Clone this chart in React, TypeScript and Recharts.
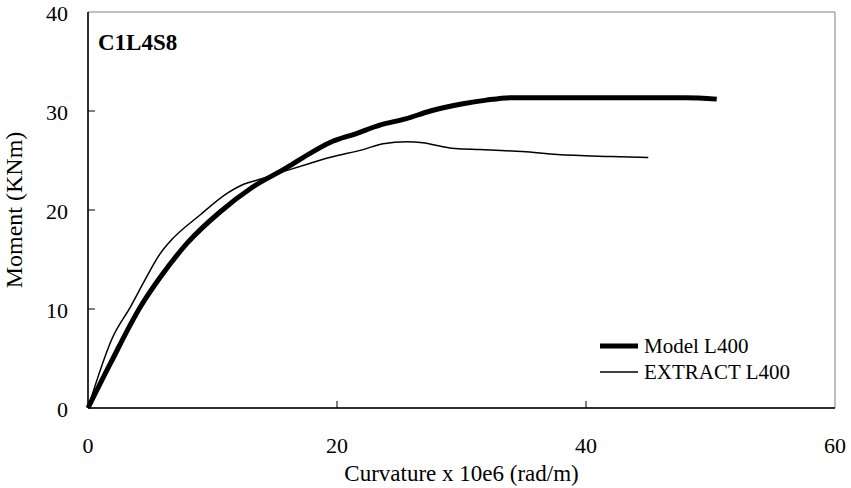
import React from 'react';
import {
  LineChart,
  Line,
  XAxis,
  YAxis,
  ReferenceArea
} from 'recharts';

const FONT = '"Liberation Serif", "Times New Roman", serif';

const xTicks = [0, 20, 40, 60];
const yTicks = [0, 10, 20, 30, 40];

// Model L400 (thick)
const modelX = [0, 1.8, 4.2, 5.8, 8, 10.6, 13.2, 16, 17.8, 19.4, 21.5, 23.5, 25.5, 27.5, 30, 32, 34.1, 40, 48, 50.5];
const modelY = [0, 4.5, 10.2, 13.2, 16.7, 19.8, 22.3, 24.3, 25.7, 26.8, 27.7, 28.6, 29.2, 30.0, 30.7, 31.1, 31.35, 31.35, 31.35, 31.2];

// EXTRACT L400 (thin)
const extractX = [0, 2.0, 3.4, 4.6, 5.8, 6.5, 9.0, 11.2, 12.5, 13.8, 16, 17.8, 19.4, 22.1, 23.7, 25.6, 26.9, 28.5, 29.5, 31.5, 34.9, 37.7, 42, 45];
const extractY = [0, 7.2, 10.2, 13, 15.6, 16.7, 19.5, 21.7, 22.6, 23.1, 24.0, 24.7, 25.3, 26.1, 26.7, 26.9, 26.8, 26.4, 26.2, 26.1, 25.9, 25.6, 25.4, 25.3];

const modelData = modelX.map((x, i) => ({ x, y: modelY[i] }));
const extractData = extractX.map((x, i) => ({ x, y: extractY[i] }));

const Y_MARGIN = 20;
const X_MARGIN = 30;

const YTick = (props: any) => {
  const { x, y, payload } = props;
  const ax = x + Y_MARGIN;
  return (
    <g>
      {payload.value !== 0 && payload.value !== 40 && (
        <line x1={ax} y1={y} x2={ax + 7} y2={y} stroke="#000" strokeWidth={1} />
      )}
      <text x={x} y={y} dy="0.4em" textAnchor="end" fontFamily={FONT} fontSize={22} fill="#000">
        {payload.value}
      </text>
    </g>
  );
};

const XTick = (props: any) => {
  const { x, y, payload } = props;
  const ay = y - X_MARGIN;
  return (
    <g>
      {payload.value !== 0 && payload.value !== 60 && (
        <line x1={x} y1={ay} x2={x} y2={ay - 7} stroke="#000" strokeWidth={1} />
      )}
      <text x={x} y={y} dy="0.7em" textAnchor="middle" fontFamily={FONT} fontSize={22} fill="#000">
        {payload.value}
      </text>
    </g>
  );
};

const legendItems = [
  { name: 'Model L400', w: 5 },
  { name: 'EXTRACT L400', w: 1.5 }
];

export default function App() {
  return (
    <div style={{ position: 'absolute', left: 0, top: 0, width: 851, height: 488, background: '#fff' }}>
      <LineChart width={851} height={488} margin={{ top: 12, right: 16, bottom: 0, left: 0 }}>
        <ReferenceArea x1={0} x2={60} y1={0} y2={40} fill="none" stroke="#808080" strokeWidth={1} ifOverflow="visible" />
        <XAxis
          type="number"
          dataKey="x"
          domain={[0, 60]}
          ticks={xTicks}
          height={80}
          tickSize={0}
          tickMargin={X_MARGIN}
          tick={<XTick />}
          axisLine={{ stroke: '#000', strokeWidth: 1.5 }}
          label={{
            value: 'Curvature x 10e6 (rad/m)',
            position: 'insideBottom',
            offset: 7,
            style: { fontFamily: FONT, fontSize: 23, fill: '#000' }
          }}
          allowDuplicatedCategory={false}
        />
        <YAxis
          type="number"
          dataKey="y"
          domain={[0, 40]}
          ticks={yTicks}
          width={88}
          tickSize={0}
          tickMargin={Y_MARGIN}
          tick={<YTick />}
          axisLine={{ stroke: '#000', strokeWidth: 1.5 }}
          label={{
            value: 'Moment (KNm)',
            angle: -90,
            position: 'insideLeft',
            offset: 18,
            dx: -5,
            style: { fontFamily: FONT, fontSize: 24, fill: '#000', textAnchor: 'middle' }
          }}
        />
        <Line
          data={extractData}
          dataKey="y"
          type="monotone"
          stroke="#000"
          strokeWidth={1.5}
          dot={false}
          isAnimationActive={false}
          name="EXTRACT L400"
        />
        <Line
          data={modelData}
          dataKey="y"
          type="monotone"
          stroke="#000"
          strokeWidth={5}
          dot={false}
          isAnimationActive={false}
          name="Model L400"
        />
      </LineChart>
      <div
        style={{
          position: 'absolute',
          left: 599,
          top: 333,
          fontFamily: FONT,
          fontSize: 21,
          color: '#000',
          lineHeight: '26px'
        }}
      >
        {legendItems.map((it) => (
          <div key={it.name} style={{ display: 'flex', alignItems: 'center', whiteSpace: 'nowrap' }}>
            <svg width={40} height={26} style={{ marginRight: 5 }}>
              <line x1={1} y1={13} x2={39} y2={13} stroke="#000" strokeWidth={it.w} />
            </svg>
            <span>{it.name}</span>
          </div>
        ))}
      </div>
      <div
        style={{
          position: 'absolute',
          left: 98,
          top: 30,
          fontFamily: FONT,
          fontSize: 23,
          fontWeight: 'bold',
          color: '#000'
        }}
      >
        C1L4S8
      </div>
    </div>
  );
}
